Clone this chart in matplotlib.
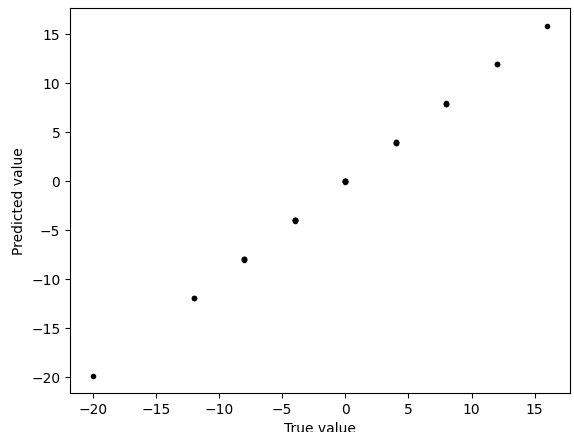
import matplotlib
matplotlib.use("Agg")
import matplotlib.pyplot as plt

# true vs predicted values
true_vals = [-20, -12, -12, -8, -8, -8, -8, -4, -4, -4, -4, -4,
             0, 0, 0, 0, 0, 0, 4, 4, 4, 4, 8, 8, 8, 12, 12, 16]
pred_vals = [-19.85, -11.9, -11.95, -7.95, -8.0, -8.02, -7.98, -3.97, -4.0, -4.02, -4.05, -3.95,
             0.0, 0.02, -0.02, 0.05, -0.05, 0.0, 3.95, 3.92, 3.98, 3.9, 7.9, 7.93, 7.87, 11.9, 11.93, 15.85]

fig, ax = plt.subplots(figsize=(5.74, 4.32), dpi=100)
ax.plot(true_vals, pred_vals, '.', color='black')
ax.set_xlabel("True value")
ax.set_ylabel("Predicted value")
fig.subplots_adjust(left=0.122, right=0.993, top=0.981, bottom=0.09)
fig.savefig("out.png", dpi=100)
